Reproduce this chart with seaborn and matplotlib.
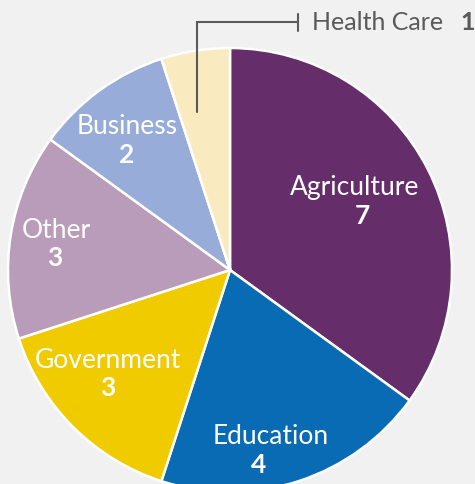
import matplotlib
matplotlib.use("Agg")
import matplotlib.pyplot as plt
import seaborn as sns

# data
sectors = ['Agriculture', 'Education', 'Government', 'Other', 'Business', 'Health Care']
counts = [7, 4, 3, 3, 2, 1]
colors = ['#652d6a', '#0a6bb5', '#f0cb00', '#b89cb9', '#97acd9', '#f9ebbf']

sns.set_theme(style='white')
plt.rcParams['font.family'] = ['Lato', 'DejaVu Sans']

W, H = 475, 484
fig = plt.figure(figsize=(W / 100, H / 100), dpi=100)
fig.patch.set_facecolor('#f1f1f1')
ax = fig.add_axes([0, 0, 1, 1])
ax.set_facecolor('#f1f1f1')

cx, cy, r = 230, H - 270, 222
ax.pie(counts, colors=colors, startangle=90, counterclock=False,
       center=(cx, cy), radius=r, frame=True,
       wedgeprops=dict(edgecolor='white', linewidth=1.8))
ax.set_xlim(0, W)
ax.set_ylim(0, H)
ax.set_aspect('equal')
ax.axis('off')

# label positions in pixel coords (x, y of name line, x of value)
label_pos = {
    'Agriculture': (355, 188, 362),
    'Education': (271, 437, 259),
    'Government': (108, 360, 108),
    'Other': (56, 230, 55),
    'Business': (127, 127, 127),
}
for name, val in zip(sectors, counts):
    if name not in label_pos:
        continue
    x, y, vx = label_pos[name]
    ax.text(x, H - y, name, color='white', fontsize=19, ha='center', va='center')
    ax.text(vx, H - y - 28, str(val), color='white', fontsize=19,
            fontweight='bold', ha='center', va='center')

# Health Care leader line
gray = '#5a5a5a'
ax.plot([197, 197, 298], [H - 112, H - 22, H - 22], color=gray, lw=1.5,
        solid_joinstyle='miter')
ax.plot([298, 298], [H - 14, H - 31], color=gray, lw=1.5)
ax.text(312, H - 22, sectors[-1], color=gray, fontsize=18, ha='left', va='center')
ax.text(460, H - 22, str(counts[-1]), color=gray, fontsize=18,
        fontweight='bold', ha='left', va='center')

fig.savefig('out.png', dpi=100, facecolor=fig.get_facecolor())
